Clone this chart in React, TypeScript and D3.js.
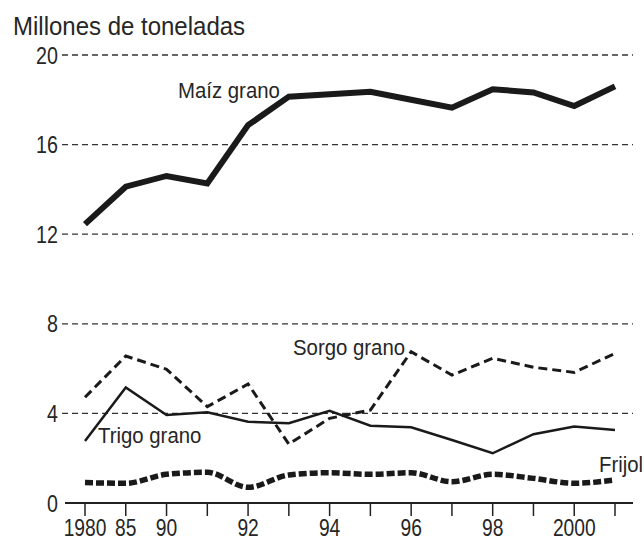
import React from "react";
import * as d3 from "d3";

const years = ["1980", "1985", "1990", "1991", "1992", "1993", "1994", "1995", "1996", "1997", "1998", "1999", "2000", "2001"];
const tickLabels: Record<string, string> = { "1980": "1980", "1985": "85", "1990": "90", "1992": "92", "1994": "94", "1996": "96", "1998": "98", "2000": "2000" };
const maiz = [12.45, 14.12, 14.6, 14.27, 16.87, 18.14, 18.25, 18.36, 18.0, 17.65, 18.47, 18.33, 17.72, 18.6];
const sorgo = [4.72, 6.56, 5.97, 4.3, 5.31, 2.63, 3.78, 4.15, 6.75, 5.71, 6.46, 6.06, 5.83, 6.68];
const trigo = [2.77, 5.16, 3.93, 4.05, 3.63, 3.56, 4.12, 3.45, 3.38, 2.81, 2.22, 3.07, 3.41, 3.26];
const frijol = [0.91, 0.88, 1.28, 1.37, 0.7, 1.25, 1.35, 1.28, 1.35, 0.95, 1.28, 1.1, 0.88, 1.03];
const yTicks = [0, 4, 8, 12, 16, 20];

const FONT = "'Liberation Sans', Arial, sans-serif";
const TXT = "#262626";

export default function App() {
  const x = d3.scalePoint<string>().domain(years).range([85, 615]);
  const y = d3.scaleLinear().domain([0, 20]).range([503, 55]);
  const line = (vals: number[], curve: d3.CurveFactory = d3.curveLinear) =>
    d3.line<number>().x((_, i) => x(years[i]) as number).y((v) => y(v)).curve(curve)(vals) as string;

  return (
    <svg width={644} height={542} style={{ position: "absolute", left: 0, top: 0, background: "#fff" }} fontFamily={FONT}>
      <text transform="translate(13,35) scale(0.96,1.05)" fontSize={25} fill={TXT}>Millones de toneladas</text>
      {yTicks.filter((t) => t > 0).map((t) => (
        <line key={t} x1={62} x2={633} y1={y(t)} y2={y(t)} stroke="#333" strokeWidth={1.3} strokeDasharray="6,4" />
      ))}
      {yTicks.map((t) => (
        <text key={t} transform={`translate(58,${y(t) + 8.5}) scale(0.82,1)`} fontSize={24} textAnchor="end" fill={TXT}>{t}</text>
      ))}
      <line x1={65} x2={633} y1={y(0)} y2={y(0)} stroke="#222" strokeWidth={2} />
      {years.map((yr) => (
        <g key={yr}>
          <line x1={x(yr)} x2={x(yr)} y1={y(0)} y2={y(0) + 13} stroke="#222" strokeWidth={1.5} />
          {tickLabels[yr] && (
            <text transform={`translate(${x(yr)},536) scale(0.8,1)`} fontSize={24} textAnchor="middle" fill={TXT}>{tickLabels[yr]}</text>
          )}
        </g>
      ))}
      <path d={line(frijol, d3.curveMonotoneX)} fill="none" stroke="#1a1a1a" strokeWidth={5.5} strokeDasharray="8,3" />
      <path d={line(trigo)} fill="none" stroke="#1a1a1a" strokeWidth={2.5} />
      <path d={line(sorgo)} fill="none" stroke="#1a1a1a" strokeWidth={3} strokeDasharray="9,5" />
      <path d={line(maiz)} fill="none" stroke="#1a1a1a" strokeWidth={6} strokeLinejoin="miter" />
      <text transform="translate(178,98) scale(0.97,1.05)" fontSize={21} fill={TXT}>Maíz grano</text>
      <text transform="translate(293,355) scale(0.97,1.05)" fontSize={21} fill={TXT}>Sorgo grano</text>
      <text transform="translate(98,443) scale(0.97,1.05)" fontSize={21} fill={TXT}>Trigo grano</text>
      <text transform="translate(599,472) scale(0.97,1.05)" fontSize={21} fill={TXT}>Frijol</text>
    </svg>
  );
}
